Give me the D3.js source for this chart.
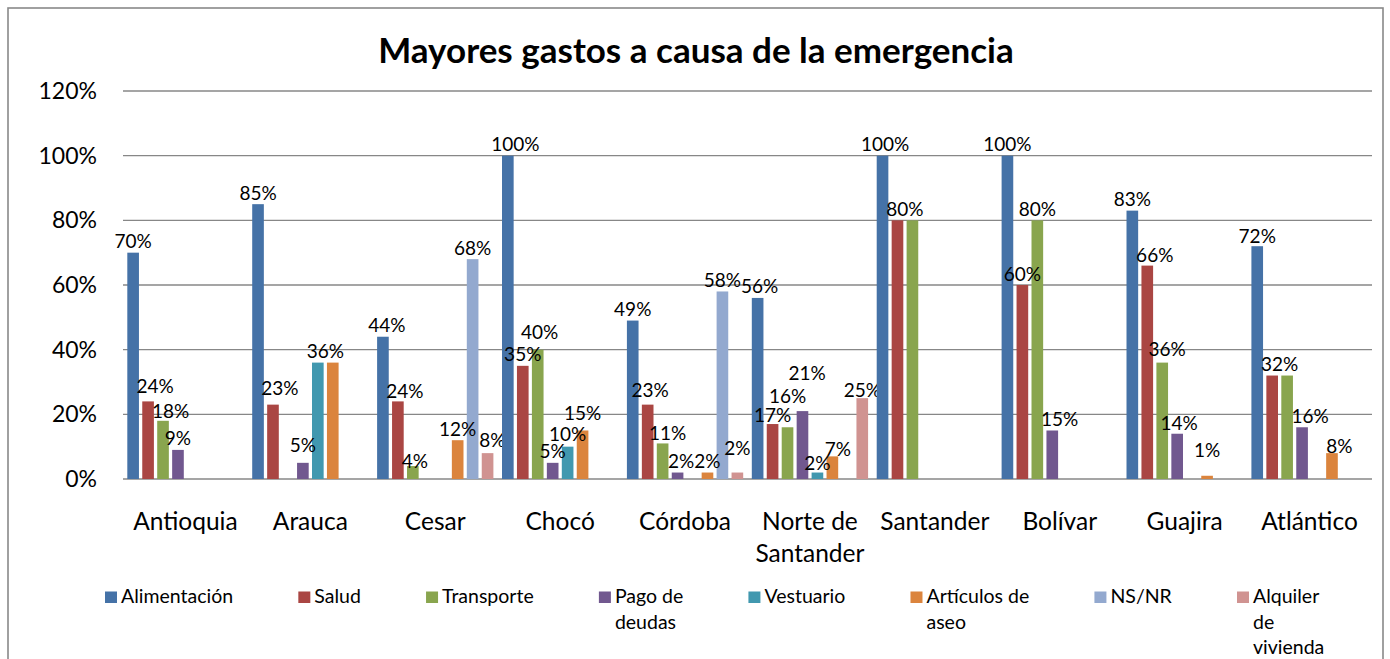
<!DOCTYPE html>
<html>
<head>
<meta charset="utf-8">
<script src="https://cdn.jsdelivr.net/npm/d3@7/dist/d3.min.js"></script>
<style>
  html, body { margin: 0; padding: 0; background: #fff; }
  svg { display: block; }
  text { font-family: Lato, "Noto Sans", sans-serif; fill: #000; }
</style>
</head>
<body>
<script>
// ---------- DATA ----------
const categories = ["Antioquia", "Arauca", "Cesar", "Chocó", "Córdoba",
  "Norte de Santander", "Santander", "Bolívar", "Guajira", "Atlántico"];
const seriesNames = ["Alimentación", "Salud", "Transporte", "Pago de deudas",
  "Vestuario", "Artículos de aseo", "NS/NR", "Alquiler de vivienda"];
const legendLabels = ["Alimentación", "Salud", "Transporte", "Pago de\ndeudas",
  "Vestuario", "Artículos de\naseo", "NS/NR", "Alquiler\nde\nvivienda"];
// values per series, in category order (0 = no bar)
const alimentacion = [0.70, 0.85, 0.44, 1.00, 0.49, 0.56, 1.00, 1.00, 0.83, 0.72];
const salud        = [0.24, 0.23, 0.24, 0.35, 0.23, 0.17, 0.80, 0.60, 0.66, 0.32];
const transporte   = [0.18, 0,    0.04, 0.40, 0.11, 0.16, 0.80, 0.80, 0.36, 0.32];
const pagoDeudas   = [0.09, 0.05, 0,    0.05, 0.02, 0.21, 0,    0.15, 0.14, 0.16];
const vestuario    = [0,    0.36, 0,    0.10, 0,    0.02, 0,    0,    0,    0];
const articulosAseo= [0,    0.36, 0.12, 0.15, 0.02, 0.07, 0,    0,    0.01, 0.08];
const nsnr         = [0,    0,    0.68, 0,    0.58, 0,    0,    0,    0,    0];
const alquiler     = [0,    0,    0.08, 0,    0.02, 0.25, 0,    0,    0,    0];
const seriesValues = [alimentacion, salud, transporte, pagoDeudas, vestuario,
  articulosAseo, nsnr, alquiler];
const colors = ["#4572A7", "#AA4643", "#89A54E", "#71588F", "#4198AF",
  "#DB843D", "#93A9CF", "#D09391"];
const yTicks = [0, 0.2, 0.4, 0.6, 0.8, 1.0, 1.2];
const title = "Mayores gastos a causa de la emergencia";

// layout: hand-placed data-label nudges seen in the original [dx, dy] px
const labelNudges = {
  "Antioquia": { 1: [7, -4], 2: [7.5, 2] },
  "Arauca": { 1: [7, -5.5], 3: [0, -6] },
  "Cesar": { 0: [4, 0], 1: [7, 1], 2: [2, 6], 7: [4.7, -1.5] },
  "Chocó": { 0: [7.5, 0], 2: [2, -6.5], 4: [0, -1.5], 5: [0, -6.5] },
  "Córdoba": { 1: [2.5, -3.5], 2: [5, 1.5], 3: [3.5, 0], 7: [0, -13] },
  "Norte de Santander": { 0: [2, 0], 1: [0, 2.5], 2: [0, -19.5], 3: [4.7, -27], 4: [0, 2], 5: [5.5, 4.5], 6: [0, 0], 7: [0, 3.5] },
  "Santander": { 0: [2.5, 0] },
  "Bolívar": { 3: [7.4, 0] },
  "Guajira": { 1: [7.5, 0.5], 2: [5, -2], 3: [2, 0.5], 5: [0, -14.5] },
  "Atlántico": { 0: [0, 1], 3: [8, 0], 5: [7.5, 4] }
};

// ---------- LAYOUT ----------
const W = 1390, H = 659;
const svg = d3.select("body").append("svg").attr("width", W).attr("height", H);

svg.append("rect").attr("x", 8).attr("y", 8).attr("width", 1375).attr("height", 700)
  .attr("fill", "#fff").attr("stroke", "#898989").attr("stroke-width", 1.6);

svg.append("text").attr("x", 696).attr("y", 63).attr("text-anchor", "middle")
  .attr("font-size", 35).attr("font-weight", "bold").text(title);

const plot = { left: 123, right: 1372, top: 91, bottom: 479 };

const x0 = d3.scaleBand().domain(categories).range([plot.left, plot.right]).padding(0);
const x1 = d3.scaleBand().domain(d3.range(seriesNames.length))
  .range([0, x0.bandwidth()]).paddingInner(0.221).paddingOuter(0.288);
const y = d3.scaleLinear().domain([0, 1.2]).range([plot.bottom, plot.top]);

// gridlines
svg.append("g").selectAll("line").data(yTicks).join("line")
  .attr("x1", plot.left).attr("x2", plot.right)
  .attr("y1", d => y(d)).attr("y2", d => y(d))
  .attr("stroke", "#878787").attr("stroke-width", 1.3);

// y axis labels
const fmt = d3.format(".0%");
svg.append("g").selectAll("text").data(yTicks).join("text")
  .attr("x", 97).attr("y", d => y(d) + 8).attr("text-anchor", "end")
  .attr("font-size", 23).text(d => fmt(d));

// bars
const cats = svg.append("g").selectAll("g").data(categories).join("g")
  .attr("transform", d => `translate(${x0(d)},0)`);

cats.each(function(cat, ci) {
  const g = d3.select(this);
  const vals = seriesValues.map(s => s[ci]);
  g.selectAll("rect").data(vals.map((v, si) => ({ v, si })).filter(d => d.v > 0))
    .join("rect")
    .attr("x", d => x1(d.si)).attr("width", x1.bandwidth())
    .attr("y", d => y(d.v)).attr("height", d => y(0) - y(d.v))
    .attr("fill", d => colors[d.si]);
  // labels; equal adjacent values share one centred label
  const labels = [];
  vals.forEach((v, si) => {
    if (v <= 0) return;
    const cx = x1(si) + x1.bandwidth() / 2;
    const prev = labels[labels.length - 1];
    if (prev && prev.si === si - 1 && prev.v === v && !prev.merged) {
      prev.cx = (prev.cx + cx) / 2; prev.merged = true; prev.si = si;
    } else labels.push({ v, si, cx, first: si });
  });
  const nud = labelNudges[cat] || {};
  g.selectAll("text").data(labels).join("text")
    .attr("x", d => d.cx + ((nud[d.first] || [0, 0])[0]))
    .attr("y", d => y(d.v) - 4.5 + ((nud[d.first] || [0, 0])[1]))
    .attr("text-anchor", "middle").attr("font-size", 19)
    .text(d => fmt(d.v));
});

// category labels with wrapping
const maxW = x0.bandwidth() - 8;
svg.append("g").selectAll("text").data(categories).join("text")
  .attr("text-anchor", "middle").attr("font-size", 24.5)
  .attr("x", d => x0(d) + x0.bandwidth() / 2).attr("y", 530)
  .each(function(d) {
    const t = d3.select(this);
    const words = d.split(" ");
    let line = [], lines = [];
    const tmp = t.append("tspan");
    words.forEach(w => {
      const test = line.concat([w]).join(" ");
      tmp.text(test);
      if (tmp.node().getComputedTextLength() > maxW && line.length) {
        lines.push(line.join(" ")); line = [w];
      } else line.push(w);
    });
    lines.push(line.join(" "));
    tmp.remove();
    const cx = x0(d) + x0.bandwidth() / 2;
    lines.forEach((l, i) => t.append("tspan").attr("x", cx).attr("dy", i ? 32 : 0).text(l));
  });

// legend
const legFont = 19.5, legStart = 105, legEnd = 1237, swatch = 12, textOff = 16;
const leg = svg.append("g");
const items = legendLabels.map((lab, i) => {
  const g = leg.append("g");
  const t = g.append("text").attr("font-size", legFont).attr("y", 603);
  lab.split("\n").forEach((l, li) => t.append("tspan").attr("x", textOff).attr("dy", li ? 25.5 : 0).text(l));
  const w = d3.max(t.selectAll("tspan").nodes(), n => n.getComputedTextLength());
  g.append("rect").attr("x", 0).attr("y", 591.5).attr("width", swatch).attr("height", 11.5)
    .attr("fill", colors[i]);
  return { g, w };
});
const used = d3.sum(items.slice(0, -1), d => textOff + d.w);
const gap = (legEnd - legStart - used) / (items.length - 1);
let cx = legStart;
items.forEach(d => { d.g.attr("transform", `translate(${cx},0)`); cx += textOff + d.w + gap; });
</script>
</body>
</html>
